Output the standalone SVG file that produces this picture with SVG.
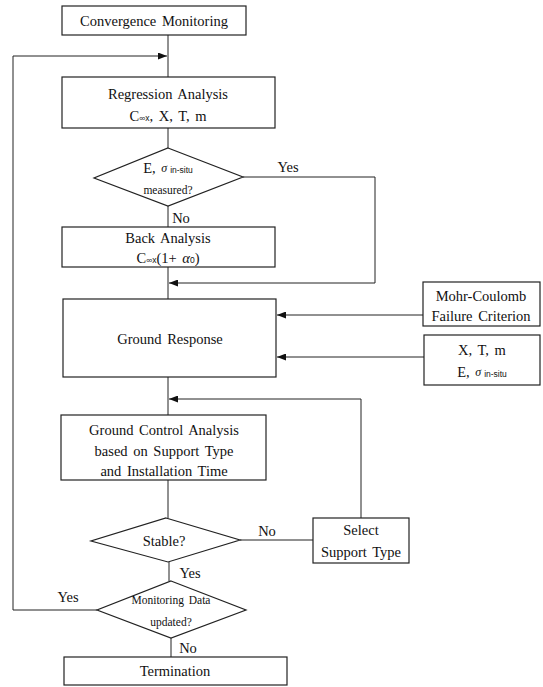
<svg xmlns="http://www.w3.org/2000/svg" width="543" height="687" viewBox="0 0 543 687">
<defs>
<style>
.box{fill:#fff;stroke:#222;stroke-width:1.2}
.ln{fill:none;stroke:#222;stroke-width:1}
text{font-family:"Liberation Serif","Times New Roman",serif;fill:#111;text-anchor:middle;dominant-baseline:central;font-size:14.5px;word-spacing:2px}
.sm{font-size:11.5px}
.sub{font-size:8.5px;font-family:"Liberation Sans",Arial,sans-serif}
.it{font-style:italic}
</style>
<marker id="ah" markerWidth="9" markerHeight="7" refX="9" refY="3.5" orient="auto" markerUnits="userSpaceOnUse">
<path d="M0,0 L9,3.5 L0,7 Z" fill="#111"/>
</marker>
</defs>
<rect width="543" height="687" fill="#fff"/>

<g id="connectors">
<path class="ln" d="M168,35 V77"/>
<path class="ln" d="M97,610 H13 V56 H167" marker-end="url(#ah)"/>
<path class="ln" d="M168,128 V148"/>
<path class="ln" d="M243,177 H375 V283 H169" marker-end="url(#ah)"/>
<path class="ln" d="M168,206 V227"/>
<path class="ln" d="M168,267 V299"/>
<path class="ln" d="M423,315 H277" marker-end="url(#ah)"/>
<path class="ln" d="M424,357 H277" marker-end="url(#ah)"/>
<path class="ln" d="M168,377 V415"/>
<path class="ln" d="M361,518 V399 H169" marker-end="url(#ah)"/>
<path class="ln" d="M168,480 V518"/>
<path class="ln" d="M240,540 H313"/>
<path class="ln" d="M169,562 V581"/>
<path class="ln" d="M171,638 V657"/>
<text x="288" y="167">Yes</text>
<text x="181" y="218">No</text>
<text x="267" y="531">No</text>
<text x="190" y="573">Yes</text>
<text x="68" y="597">Yes</text>
<text x="188" y="648">No</text>
</g>

<g id="convergence">
<rect class="box" x="62" y="6" width="184" height="29"/>
<text x="154" y="21">Convergence Monitoring</text>
</g>

<g id="regression">
<rect class="box" x="62" y="77" width="213" height="51"/>
<text x="168" y="94">Regression Analysis</text>
<text x="168" y="116">C<tspan class="sub" dy="2">∞x</tspan><tspan dy="-2">, X, T, m</tspan></text>
</g>

<g id="measured">
<path class="box" d="M168,148 L243,177 L168,206 L94,178 Z"/>
<text x="168" y="168">E, <tspan class="it" font-size="12">σ</tspan><tspan class="sub" dx="3" dy="2">in-situ</tspan></text>
<text x="168" y="190" class="sm">measured?</text>
</g>

<g id="back">
<rect class="box" x="62" y="227" width="213" height="40"/>
<text x="168" y="238">Back Analysis</text>
<text x="168" y="258">C<tspan class="sub" dy="2">∞x</tspan><tspan dy="-2">(1+ </tspan><tspan class="it">α</tspan><tspan class="sub" dy="2">0</tspan><tspan dy="-2">)</tspan></text>
</g>

<g id="ground-response">
<rect class="box" x="63" y="299" width="213" height="78"/>
<text x="170" y="339">Ground Response</text>
</g>

<g id="mohr">
<rect class="box" x="423" y="282" width="117" height="44"/>
<text x="481" y="296">Mohr-Coulomb</text>
<text x="481" y="316">Failure Criterion</text>
</g>

<g id="params">
<rect class="box" x="424" y="335" width="116" height="50"/>
<text x="482" y="350">X, T, m</text>
<text x="482" y="372">E, <tspan class="it" font-size="12">σ</tspan><tspan class="sub" dx="3" dy="2">in-situ</tspan></text>
</g>

<g id="ground-control">
<rect class="box" x="61" y="415" width="205" height="65"/>
<text x="164" y="430">Ground Control Analysis</text>
<text x="164" y="451">based on Support Type</text>
<text x="164" y="471">and Installation Time</text>
</g>

<g id="stable">
<path class="box" d="M166,518 L240,540 L168,562 L91,541 Z"/>
<text x="164" y="541">Stable?</text>
</g>

<g id="select">
<rect class="box" x="313" y="518" width="96" height="45"/>
<text x="361" y="530">Select</text>
<text x="361" y="552">Support Type</text>
</g>

<g id="monitoring">
<path class="box" d="M171,581 L246,610 L171,638 L97,610 Z"/>
<text x="171" y="600" class="sm">Monitoring Data</text>
<text x="171" y="622" class="sm">updated?</text>
</g>

<g id="termination">
<rect class="box" x="64" y="657" width="223" height="28"/>
<text x="175" y="671">Termination</text>
</g>
</svg>
